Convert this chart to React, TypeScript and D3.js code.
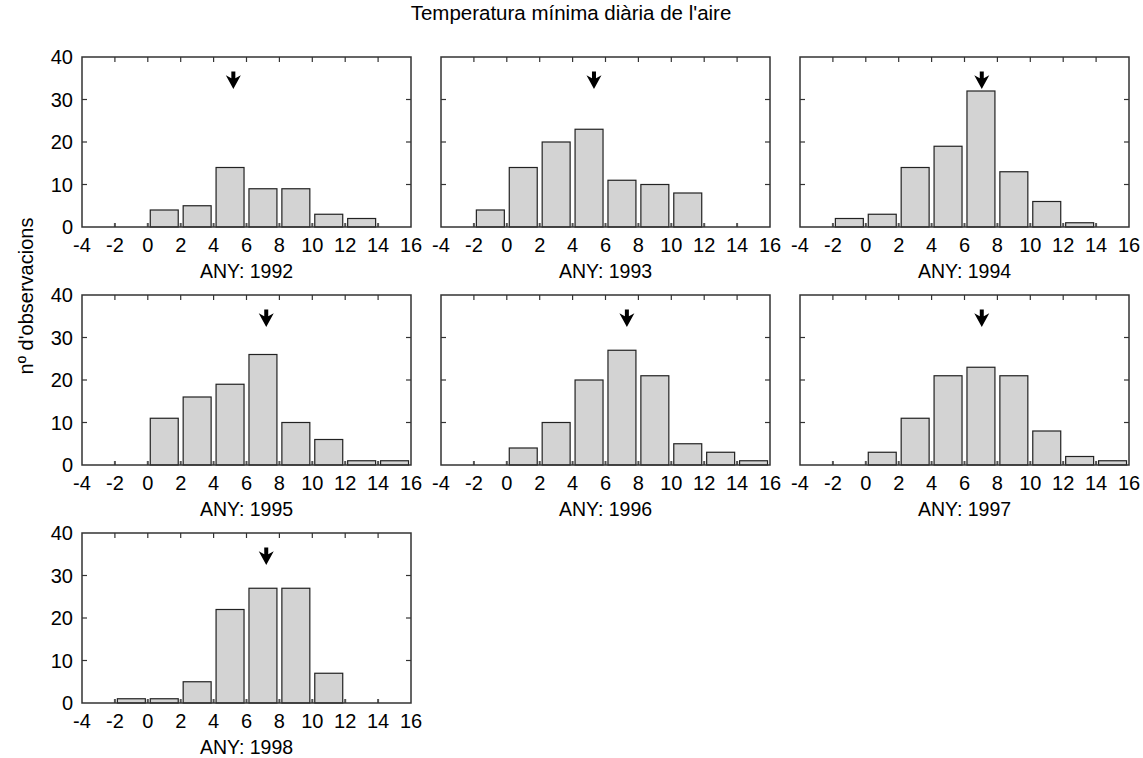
import React from "react";
import * as d3 from "d3";

const W = 1143;
const H = 758;

const title = "Temperatura mínima diària de l'aire";
const yLabel = "nº d'observacions";

const years = [1992, 1993, 1994, 1995, 1996, 1997, 1998];
const binStarts = [-4, -2, 0, 2, 4, 6, 8, 10, 12, 14];
const xTicks = [-4, -2, 0, 2, 4, 6, 8, 10, 12, 14, 16];
const yTicks = [0, 10, 20, 30, 40];

const counts1992 = [0, 0, 4, 5, 14, 9, 9, 3, 2, 0];
const counts1993 = [0, 4, 14, 20, 23, 11, 10, 8, 0, 0];
const counts1994 = [0, 2, 3, 14, 19, 32, 13, 6, 1, 0];
const counts1995 = [0, 0, 11, 16, 19, 26, 10, 6, 1, 1];
const counts1996 = [0, 0, 4, 10, 20, 27, 21, 5, 3, 1];
const counts1997 = [0, 0, 3, 11, 21, 23, 21, 8, 2, 1];
const counts1998 = [0, 1, 1, 5, 22, 27, 27, 7, 0, 0];
const allCounts = [counts1992, counts1993, counts1994, counts1995, counts1996, counts1997, counts1998];

// mean marked by the arrow
const means = [5.2, 5.3, 7.05, 7.2, 7.3, 7.05, 7.2];

const colLeft = [82, 441, 800];
const rowTop = [57, 295, 533];
const pw = 329;
const ph = 170;
const font = "Liberation Sans, Arial, sans-serif";

function Panel({ idx }: { idx: number }) {
  const col = idx % 3;
  const row = Math.floor(idx / 3);
  const x = d3.scaleLinear().domain([-4, 16]).range([0, pw]);
  const y = d3.scaleLinear().domain([0, 40]).range([ph, 0]);
  const counts = allCounts[idx];
  const showY = col === 0;
  const m = means[idx];
  const ax = x(m);
  const stemTop = y(36.6);
  const headTop = y(35.6);
  const tip = y(32.5);
  const arrow = `M${ax - 2},${stemTop} L${ax + 2},${stemTop} L${ax + 2},${headTop + 2.5} L${ax + 7.5},${headTop - 0.5} L${ax},${tip} L${ax - 7.5},${headTop - 0.5} L${ax - 2},${headTop + 2.5} Z`;

  return (
    <g transform={`translate(${colLeft[col]},${rowTop[row]})`}>
      {/* bars */}
      {binStarts.map((b, i) =>
        counts[i] > 0 ? (
          <rect
            key={b}
            x={x(b + 0.15)}
            y={y(counts[i])}
            width={x(b + 1.85) - x(b + 0.15)}
            height={ph - y(counts[i])}
            fill="#d3d3d3"
            stroke="#222"
            strokeWidth={1.2}
          />
        ) : null
      )}
      {/* ticks */}
      {xTicks.slice(1, -1).map((t) => (
        <g key={t}>
          <line x1={x(t)} x2={x(t)} y1={0} y2={5} stroke="#333" strokeWidth={1.2} />
          <line x1={x(t)} x2={x(t)} y1={ph} y2={ph - 4} stroke="#555" strokeWidth={2} />
        </g>
      ))}
      {yTicks.slice(1, -1).map((t) => (
        <g key={t}>
          <line x1={0} x2={5} y1={y(t)} y2={y(t)} stroke="#333" strokeWidth={1.2} />
          <line x1={pw} x2={pw - 5} y1={y(t)} y2={y(t)} stroke="#333" strokeWidth={1.2} />
        </g>
      ))}
      <rect x={0} y={0} width={pw} height={ph} fill="none" stroke="#333" strokeWidth={1.5} />
      {/* tick labels */}
      {xTicks.map((t) => (
        <text key={t} x={x(t)} y={ph + 25} textAnchor="middle" fontSize={20} fill="#000">
          {t}
        </text>
      ))}
      {showY &&
        yTicks.map((t) => (
          <text key={t} x={-9} y={y(t) + 7} textAnchor="end" fontSize={20} fill="#000">
            {t}
          </text>
        ))}
      <path d={arrow} fill="#000" />
      <text x={pw / 2} y={ph + 51} textAnchor="middle" fontSize={19.5} fill="#000">
        ANY: {years[idx]}
      </text>
    </g>
  );
}

export default function App() {
  return (
    <svg
      width={W}
      height={H}
      style={{ position: "absolute", left: 0, top: 0, background: "#fff", fontFamily: font }}
    >
      <rect width={W} height={H} fill="#fff" />
      <text x={571} y={20} textAnchor="middle" fontSize={20.5} fill="#000">
        {title}
      </text>
      <text
        transform={`translate(33,296) rotate(-90)`}
        textAnchor="middle"
        fontSize={20}
        fill="#000"
      >
        {yLabel}
      </text>
      {years.map((yr, i) => (
        <Panel key={yr} idx={i} />
      ))}
    </svg>
  );
}
